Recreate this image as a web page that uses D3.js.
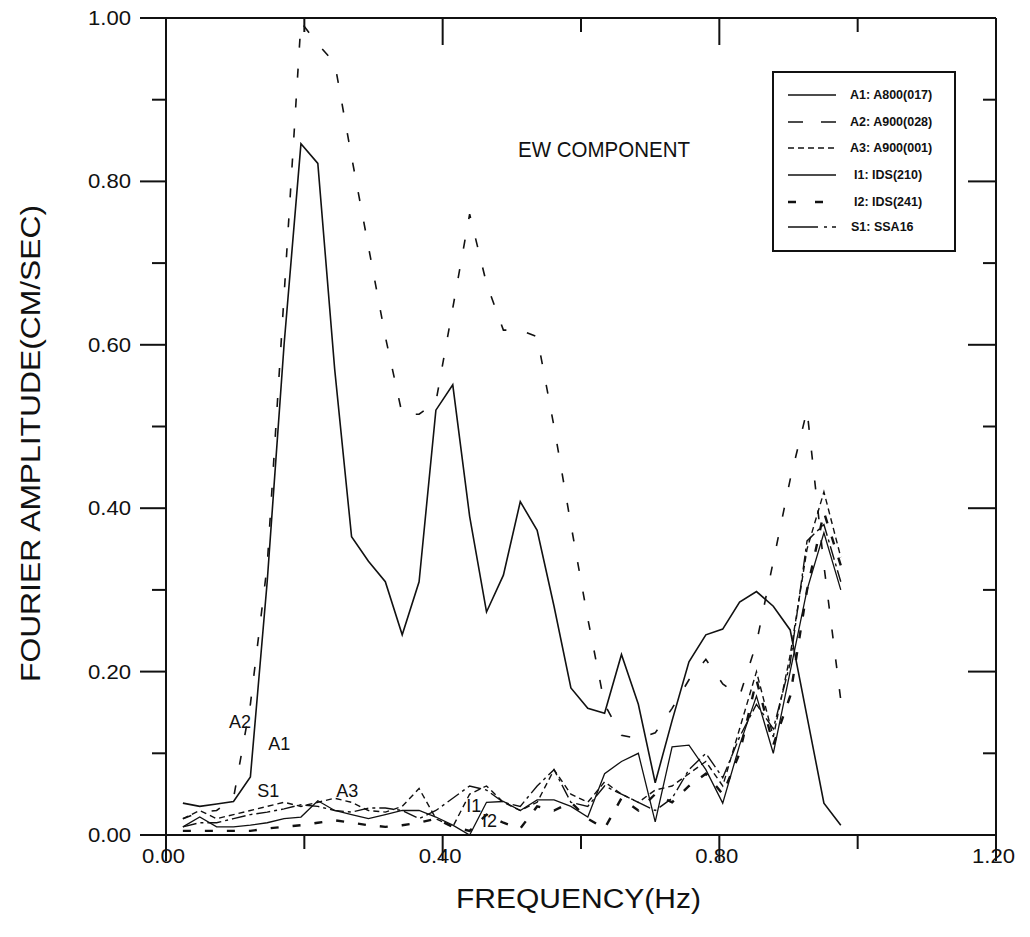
<!DOCTYPE html>
<html><head><meta charset="utf-8">
<script src="https://cdn.jsdelivr.net/npm/d3@7"></script>
<style>body{margin:0;background:#fff}svg{display:block}text{font-family:"Liberation Sans",Arial,sans-serif;fill:#111}</style>
</head><body><svg id="c" width="1030" height="937"></svg>
<script>
const freq=[0.0244,0.0488,0.0732,0.0976,0.1220,0.1463,0.1707,0.1951,0.2195,0.2439,0.2683,0.2927,0.3171,0.3415,0.3659,0.3902,0.4146,0.4390,0.4634,0.4878,0.5122,0.5366,0.5610,0.5854,0.6098,0.6341,0.6585,0.6829,0.7073,0.7317,0.7561,0.7805,0.8049,0.8293,0.8537,0.8780,0.9024,0.9268,0.9512,0.9756];
const A1=[0.039,0.035,0.038,0.041,0.071,0.31,0.60,0.846,0.822,0.57,0.365,0.335,0.31,0.245,0.31,0.52,0.551,0.39,0.273,0.318,0.408,0.373,0.28,0.18,0.155,0.149,0.221,0.16,0.064,0.14,0.212,0.245,0.252,0.285,0.298,0.28,0.251,0.145,0.039,0.012];
const A2=[0.02,0.028,0.03,0.045,0.16,0.33,0.66,0.995,0.968,0.945,0.83,0.72,0.61,0.515,0.515,0.53,0.645,0.76,0.675,0.618,0.618,0.61,0.50,0.38,0.265,0.16,0.122,0.118,0.125,0.155,0.19,0.215,0.185,0.17,0.235,0.335,0.435,0.52,0.33,0.165];
const A3=[0.02,0.03,0.02,0.025,0.03,0.035,0.04,0.035,0.04,0.045,0.04,0.03,0.028,0.035,0.057,0.02,0.01,0.05,0.06,0.04,0.03,0.04,0.08,0.05,0.04,0.065,0.05,0.04,0.055,0.06,0.075,0.09,0.06,0.13,0.2,0.12,0.22,0.35,0.42,0.34];
const I1=[0.01,0.022,0.01,0.01,0.012,0.015,0.02,0.022,0.042,0.03,0.025,0.02,0.025,0.03,0.03,0.022,0.012,0.0,0.04,0.041,0.03,0.043,0.043,0.035,0.022,0.075,0.09,0.1,0.016,0.108,0.11,0.08,0.039,0.11,0.17,0.1,0.2,0.3,0.37,0.3];
const I2=[0.005,0.005,0.005,0.005,0.005,0.008,0.01,0.012,0.015,0.018,0.015,0.012,0.01,0.012,0.015,0.02,0.01,0.005,0.025,0.015,0.008,0.035,0.03,0.04,0.02,0.008,0.045,0.03,0.05,0.04,0.06,0.075,0.05,0.1,0.19,0.11,0.17,0.3,0.395,0.33];
const S1=[0.01,0.015,0.015,0.02,0.025,0.028,0.032,0.037,0.035,0.03,0.028,0.033,0.033,0.03,0.02,0.03,0.045,0.06,0.055,0.04,0.035,0.06,0.08,0.04,0.035,0.06,0.05,0.04,0.03,0.045,0.08,0.1,0.07,0.12,0.16,0.13,0.21,0.36,0.38,0.31];
const xTicks=[0,0.4,0.8,1.2];
const yTicks=[0,0.2,0.4,0.6,0.8,1.0];
const seriesNames=["A1: A800(017)","A2: A900(028)","A3: A900(001)","I1: IDS(210)","I2: IDS(241)","S1: SSA16"];
const curveLabels=[["A2",0.091,0.131],["A1",0.148,0.104],["S1",0.132,0.047],["A3",0.246,0.047],["I1",0.434,0.028],["I2",0.457,0.01]];

const svg=d3.select("#c");
const L=166,R=996,T=18,B=835;
const x=d3.scaleLinear().domain([0,1.2]).range([L,R]);
const y=d3.scaleLinear().domain([0,1]).range([B,T]);
const styles=[
 {w:1.6,d:null},
 {w:1.6,d:"9,21"},
 {w:1.4,d:"6,4"},
 {w:1.3,d:null},
 {w:2.4,d:"8,14"},
 {w:1.4,d:"14,4,3,4"}
];
const data=[A1,A2,A3,I1,I2,S1];
const line=d3.line().x((d,i)=>x(freq[i])).y(d=>y(d));
data.forEach((s,i)=>{
  svg.append("path").attr("d",line(s)).attr("fill","none").attr("stroke","#111")
   .attr("stroke-width",styles[i].w).attr("stroke-dasharray",styles[i].d).attr("stroke-linejoin","miter");
});
// frame
const g=svg.append("g").attr("stroke","#111").attr("stroke-width",2);
g.append("line").attr("x1",L).attr("x2",R).attr("y1",B).attr("y2",B);
g.append("line").attr("x1",L).attr("x2",R).attr("y1",T).attr("y2",T);
g.append("line").attr("x1",L).attr("x2",L).attr("y1",T).attr("y2",B);
g.append("line").attr("x1",R).attr("x2",R).attr("y1",T).attr("y2",B);
// ticks
const yAll=d3.range(0,11).map(v=>v/10), xAll=d3.range(0,7).map(v=>v/5);
yAll.forEach(v=>{
  const maj=Math.abs(v*5-Math.round(v*5))<1e-6;
  g.append("line").attr("x1",L-(maj?26:14)).attr("x2",L).attr("y1",y(v)).attr("y2",y(v));
  g.append("line").attr("x1",R-(maj?28:13)).attr("x2",R).attr("y1",y(v)).attr("y2",y(v));
});
xAll.forEach(v=>{
  const maj=Math.abs(v/0.4-Math.round(v/0.4))<1e-6;
  g.append("line").attr("x1",x(v)).attr("x2",x(v)).attr("y1",B).attr("y2",B+(maj?26:14));
  g.append("line").attr("x1",x(v)).attr("x2",x(v)).attr("y1",T).attr("y2",T+(maj?27:14));
});
// labels
const fmt=d3.format(".2f");
yTicks.forEach(v=>svg.append("text").attr("x",131).attr("y",y(v)+7).attr("text-anchor","end").attr("font-size",20).attr("textLength",43).attr("lengthAdjust","spacingAndGlyphs").text(fmt(v)));
xTicks.forEach(v=>svg.append("text").attr("x",x(v)-24).attr("y",863).attr("font-size",20).attr("textLength",43).attr("lengthAdjust","spacingAndGlyphs").text(fmt(v)));
svg.append("text").attr("x",456).attr("y",908).attr("font-size",27).attr("textLength",245).attr("lengthAdjust","spacingAndGlyphs").text("FREQUENCY(Hz)");
svg.append("text").attr("transform","translate(40,682) rotate(-90)").attr("font-size",27).attr("textLength",477).attr("lengthAdjust","spacingAndGlyphs").text("FOURIER AMPLITUDE(CM/SEC)");
svg.append("text").attr("x",518).attr("y",157).attr("font-size",22).attr("textLength",172).attr("lengthAdjust","spacingAndGlyphs").text("EW COMPONENT");
curveLabels.forEach(c=>svg.append("text").attr("x",x(c[1])).attr("y",y(c[2])).attr("font-size",18).text(c[0]));
// legend
svg.append("rect").attr("x",773).attr("y",72).attr("width",182).attr("height",179).attr("fill","#fff").attr("stroke","#111").attr("stroke-width",2);
const ly=[95,122,148,175,202,227];
const lx=[850,850,850,854,854,851];
seriesNames.forEach((n,i)=>{
  let d=styles[i].d;
  if(i===1) d="15,18";
  if(i===4) d="8,19";
  if(i===5) d="30,6,3,5";
  svg.append("line").attr("x1",788).attr("x2",836).attr("y1",ly[i]).attr("y2",ly[i]).attr("stroke","#111").attr("stroke-width",styles[i].w).attr("stroke-dasharray",d);
  svg.append("text").attr("x",lx[i]).attr("y",ly[i]+4).attr("font-size",12.5).attr("font-weight","bold").text(n);
});
</script></body></html>
